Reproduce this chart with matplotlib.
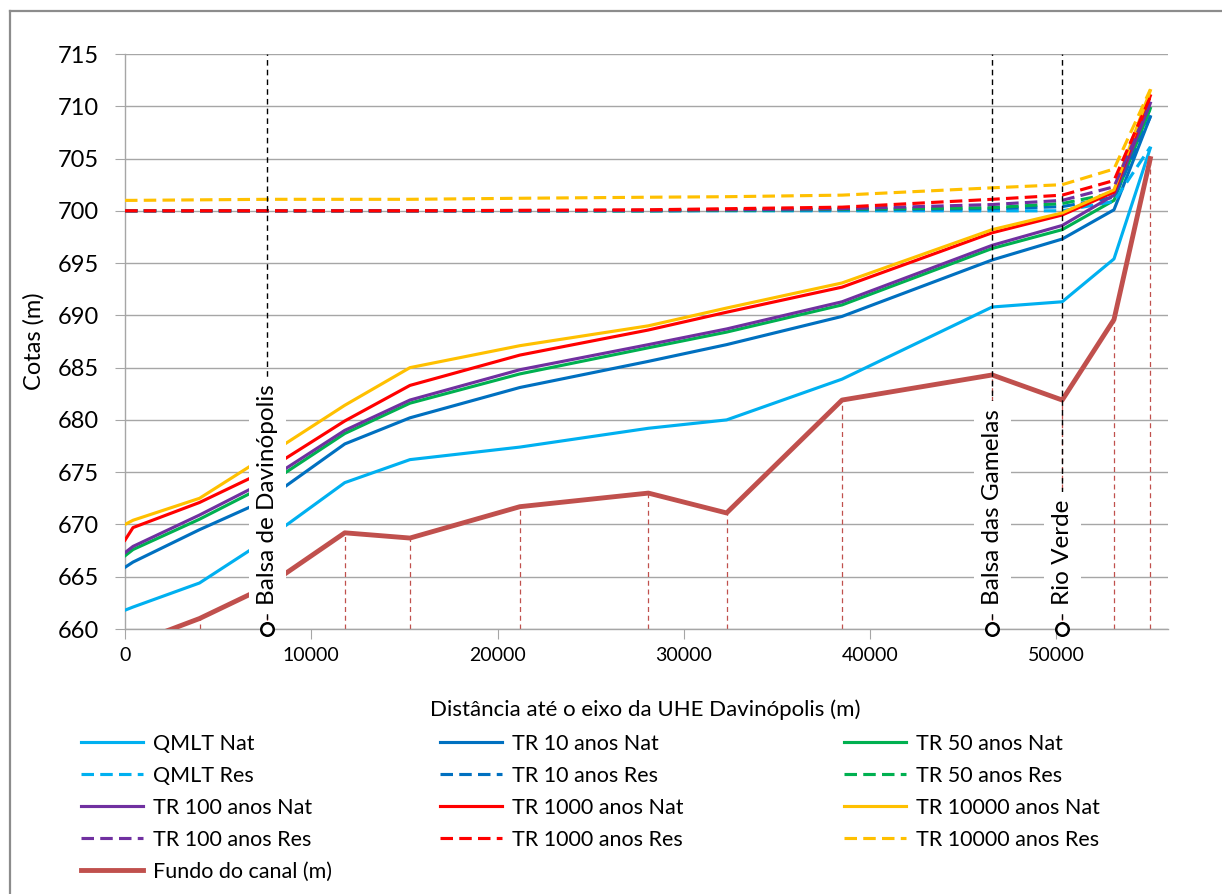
import numpy as np
import matplotlib
matplotlib.use("Agg")
import matplotlib.pyplot as plt
from matplotlib.lines import Line2D

plt.rcParams['font.family'] = ['Lato', 'DejaVu Sans']

# secoes do perfil (distancia ate o eixo, m)
dist = [0, 430, 4000, 7630, 11800, 15300, 21200, 28100, 32300, 38500, 46560, 50320, 53100, 55050]

# cotas naturais (m)
qmlt_nat = [661.8, 662.1, 664.4, 668.6, 674.0, 676.2, 677.4, 679.2, 680.0, 683.9, 690.8, 691.3, 695.4, 706.0]
tr10_nat = [665.9, 666.4, 669.5, 672.4, 677.7, 680.2, 683.1, 685.6, 687.2, 689.9, 695.3, 697.3, 700.1, 709.0]
tr50_nat = [667.0, 667.6, 670.5, 673.8, 678.7, 681.6, 684.4, 686.9, 688.4, 691.0, 696.4, 698.2, 701.0, 709.8]
tr100_nat = [667.3, 667.9, 670.9, 674.2, 679.0, 681.9, 684.8, 687.2, 688.7, 691.3, 696.7, 698.6, 701.5, 710.3]
tr1000_nat = [668.5, 669.7, 672.1, 675.2, 679.9, 683.3, 686.2, 688.6, 690.3, 692.7, 697.9, 699.6, 701.8, 711.0]
tr10000_nat = [670.0, 670.4, 672.5, 676.6, 681.4, 685.0, 687.1, 689.0, 690.7, 693.1, 698.2, 699.8, 702.0, 711.5]

# cotas com reservatorio (m)
qmlt_res = [700.0, 700.0, 700.0, 700.0, 700.0, 700.0, 700.0, 700.0, 700.0, 700.0, 700.0, 700.0, 700.9, 706.1]
tr10_res = [700.0, 700.0, 700.0, 700.0, 700.0, 700.0, 700.0, 700.0, 700.05, 700.1, 700.2, 700.4, 701.3, 709.0]
tr50_res = [700.0, 700.0, 700.0, 700.0, 700.0, 700.0, 700.0, 700.0, 700.05, 700.15, 700.3, 700.7, 701.7, 709.8]
tr100_res = [700.0, 700.0, 700.0, 700.0, 700.0, 700.0, 700.0, 700.05, 700.1, 700.2, 700.6, 701.0, 702.3, 710.3]
tr1000_res = [700.0, 700.0, 700.0, 700.0, 700.0, 700.0, 700.05, 700.1, 700.2, 700.35, 701.1, 701.5, 702.9, 710.9]
tr10000_res = [701.0, 701.0, 701.05, 701.1, 701.1, 701.1, 701.2, 701.3, 701.35, 701.5, 702.2, 702.5, 704.0, 711.6]

fundo = [658.3, 658.6, 661.0, 664.1, 669.2, 668.7, 671.7, 673.0, 671.1, 681.9, 684.3, 681.9, 689.6, 705.0]

# pontos de referencia
ref_nomes = ["Balsa de Davinópolis", "Balsa das Gamelas", "Rio Verde"]
ref_dist = [7630, 46560, 50320]

series = [
    ("QMLT Nat", qmlt_nat, "#00B0F0", "-"),
    ("TR 10 anos Nat", tr10_nat, "#0070C0", "-"),
    ("TR 50 anos Nat", tr50_nat, "#00B050", "-"),
    ("QMLT Res", qmlt_res, "#00B0F0", "--"),
    ("TR 10 anos Res", tr10_res, "#0070C0", "--"),
    ("TR 50 anos Res", tr50_res, "#00B050", "--"),
    ("TR 100 anos Nat", tr100_nat, "#7030A0", "-"),
    ("TR 1000 anos Nat", tr1000_nat, "#FF0000", "-"),
    ("TR 10000 anos Nat", tr10000_nat, "#FFC000", "-"),
    ("TR 100 anos Res", tr100_res, "#7030A0", "--"),
    ("TR 1000 anos Res", tr1000_res, "#FF0000", "--"),
    ("TR 10000 anos Res", tr10000_res, "#FFC000", "--"),
]

fig = plt.figure(figsize=(12.22, 8.94), dpi=100)
ax = fig.add_axes([125 / 1222, 1 - 629 / 894, 1043 / 1222, 575 / 894])

grid_c = "#A6A6A6"
ax.set_xlim(0, 56000)
ax.set_ylim(660, 715)
ax.set_xticks(np.arange(0, 50001, 10000))
ax.set_yticks(np.arange(660, 716, 5))
ax.grid(axis="y", color=grid_c, lw=1.0, zorder=0)
ax.set_axisbelow(True)
for s in ["top", "right"]:
    ax.spines[s].set_visible(False)
for s in ["left", "bottom"]:
    ax.spines[s].set_color(grid_c)
    ax.spines[s].set_linewidth(1.0)
ax.tick_params(axis="y", length=7, color=grid_c, labelsize=17, pad=12)
ax.tick_params(axis="x", length=7, color=grid_c, labelsize=14, pad=6)

lines = {}
for nome, vals, cor, ls in series:
    kw = dict(dashes=(4, 2)) if ls == "--" else {}
    ln, = ax.plot(dist, vals, color=cor, lw=2.25, label=nome, zorder=3, **kw)
    lines[nome] = ln
fl, = ax.plot(dist, fundo, color="#C0504D", lw=3.5, label="Fundo do canal (m)", zorder=3)
lines["Fundo do canal (m)"] = fl

# linhas de queda do fundo ate a base
ax.vlines(dist, 660, fundo, colors="#C0504D", lw=0.9, linestyles=(0, (4, 3)), zorder=2)

# marcos ao longo do rio
for nome, xr in zip(ref_nomes, ref_dist):
    ax.plot([xr, xr], [660, 715], color="black", lw=1.0, dashes=(4, 3), zorder=4)
    ax.plot([xr], [660], marker="o", ms=9, mfc="white", mec="black", mew=1.8,
            clip_on=False, zorder=6)
    ax.annotate(nome, xy=(xr, 660), xytext=(0, 17), textcoords="offset points",
                rotation=90, ha="center", va="bottom", fontsize=17.5, zorder=5,
                bbox=dict(boxstyle="square,pad=0.33", fc="white", ec="none"))

ax.set_xlabel("Distância até o eixo da UHE Davinópolis (m)", fontsize=16)
ax.set_ylabel("Cotas (m)", fontsize=17)
ax.xaxis.set_label_coords(0.4986, -0.122)
ax.yaxis.set_label_coords(-0.077, 0.5)

# legenda em tres colunas
colunas = [
    ["QMLT Nat", "QMLT Res", "TR 100 anos Nat", "TR 100 anos Res", "Fundo do canal (m)"],
    ["TR 10 anos Nat", "TR 10 anos Res", "TR 1000 anos Nat", "TR 1000 anos Res"],
    ["TR 50 anos Nat", "TR 50 anos Res", "TR 10000 anos Nat", "TR 10000 anos Res"],
]
col_x = [81, 440, 844]
for nomes, cx in zip(colunas, col_x):
    fig.legend([lines[n] for n in nomes], nomes, loc="upper left",
               bbox_to_anchor=(cx / 1222, 1 - 734 / 894), frameon=False,
               borderpad=0, borderaxespad=0, handlelength=2.9, handletextpad=0.45,
               labelspacing=0.55, fontsize=15.5)

# moldura externa
borda = "#8C8C8C"
fig.add_artist(Line2D([10 / 1222, 1], [1 - 11 / 894, 1 - 11 / 894], color=borda, lw=1.6,
                      transform=fig.transFigure))
fig.add_artist(Line2D([10 / 1222, 10 / 1222], [0, 1 - 11 / 894], color=borda, lw=1.6,
                      transform=fig.transFigure))

fig.savefig("out.png", dpi=100)
